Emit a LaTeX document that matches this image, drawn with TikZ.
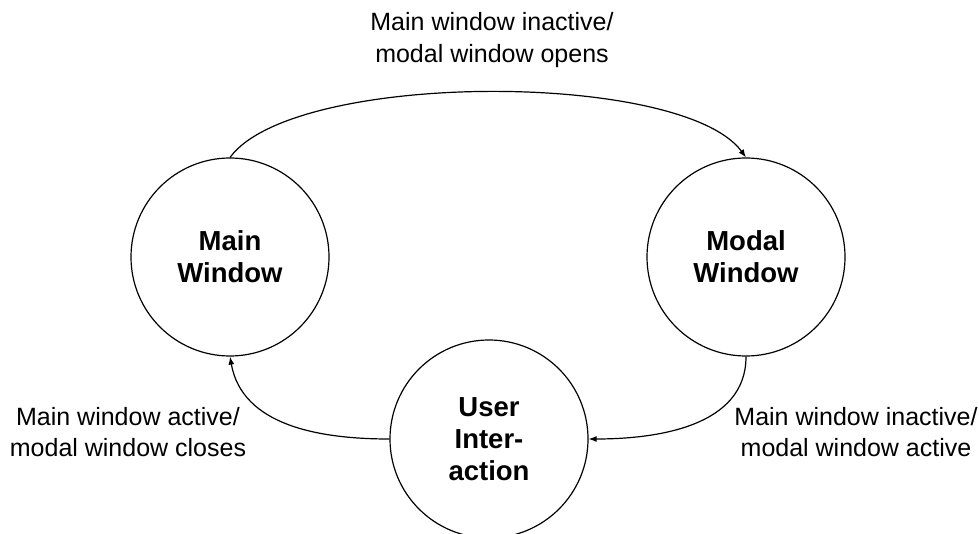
\documentclass[tikz,border=0pt]{standalone}
\usepackage{fontspec}
\setmainfont{Liberation Sans}
\usetikzlibrary{arrows.meta}
\begin{document}
\begin{tikzpicture}[x=1pt,y=1pt,
  state/.style={draw, circle, line width=1.2pt, minimum size=198pt, inner sep=0pt,
    align=center, font=\fontsize{27.5}{32}\selectfont\bfseries},
  lbl/.style={align=center, inner sep=0pt, font=\fontsize{25}{31.5}\selectfont},
  conn/.style={line width=1.2pt, -{Latex[length=8pt,width=6pt]}}]
\useasboundingbox (0,0) rectangle (979,533);
\node[state] (main) at (230,276) {Main\\Window};
\node[state] (modal) at (746,276) {Modal\\Window};
\node[state] (ui) at (489,94) {User\\Inter-\\action};
\node[lbl] (ltop) at (492,493) {Main window inactive/\\modal window opens};
\node[lbl] (lleft) at (128,101) {Main window active/\\modal window closes};
\node[lbl] (lright) at (856,101) {Main window inactive/\\modal window active};
\draw[conn] (main.north) .. controls +(64,87) and +(-64,87) .. (modal.north);
\draw[conn] (ui.west) to[out=180, in=-80] (main.south);
\draw[conn] (modal.south) to[out=-90, in=0] (ui.east);
\end{tikzpicture}
\end{document}
